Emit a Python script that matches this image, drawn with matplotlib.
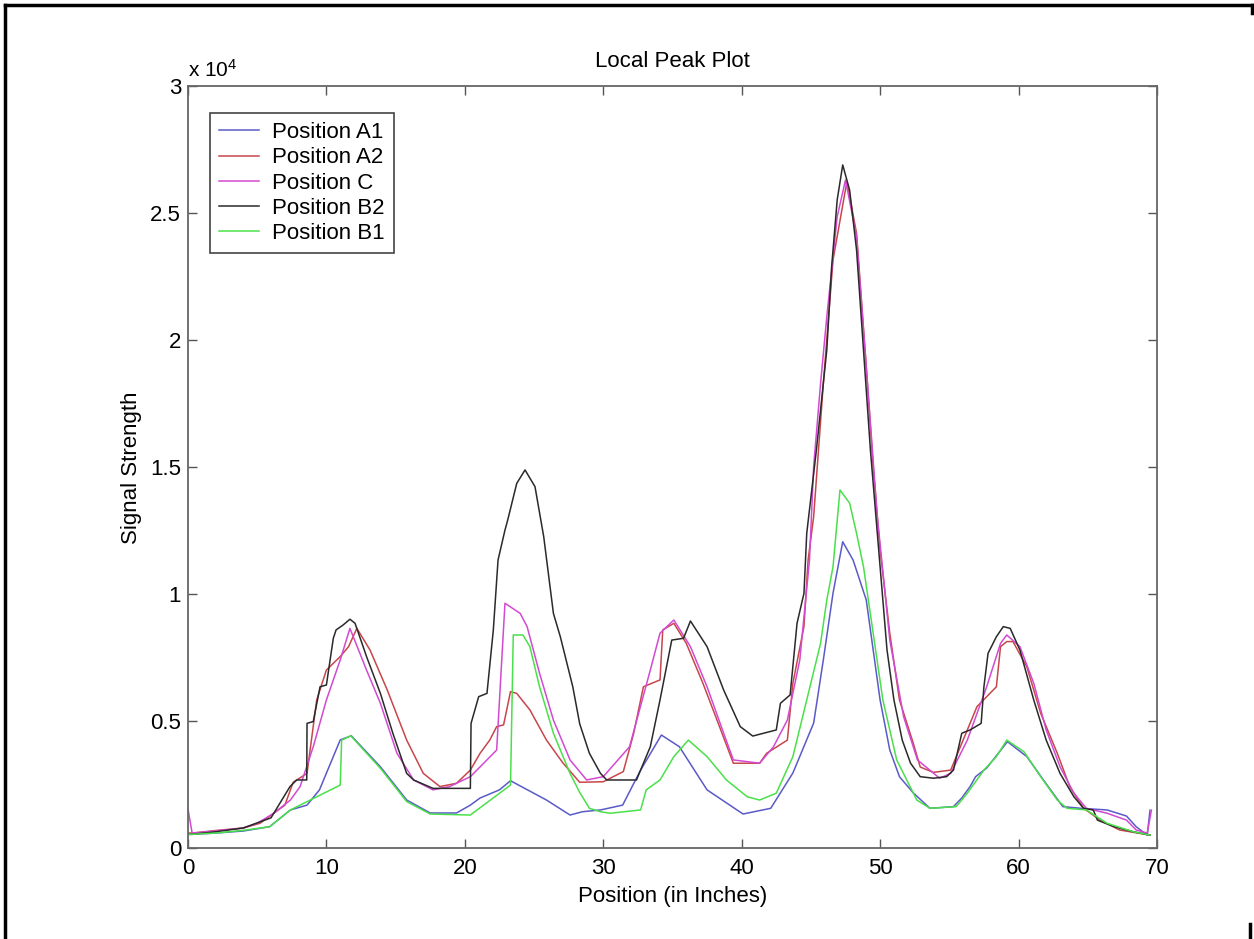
import matplotlib
matplotlib.use('Agg')
import matplotlib.pyplot as plt
from matplotlib.lines import Line2D
from matplotlib.ticker import FuncFormatter

plt.rcParams['font.family'] = ['Liberation Sans', 'DejaVu Sans']
plt.rcParams['mathtext.default'] = 'regular'

# Position A1 (blue)
a1_x = [0, 0.3, 2, 4, 5.9, 7.4, 8.6, 9.5, 11.0, 11.8, 13.9, 15.8, 17.5, 19.4, 20.4, 21.1,
        22.5, 23.3, 25.9, 27.6, 28.5, 29.8, 31.4, 32.7, 34.2, 35.5, 37.5, 40.1, 42.1, 43.7,
        45.2, 45.9, 46.6, 47.3, 48.05, 49.0, 50.0, 50.7, 51.4, 52.4, 53.6, 55.3, 55.9, 56.5,
        56.9, 57.7, 59.2, 60.6, 61.8, 63.2, 64.5, 66.4, 67.8, 68.5, 69.3, 69.5]
a1_y = [550, 550, 600, 680, 850, 1510, 1700, 2300, 4270, 4430, 3210, 1900, 1390, 1390, 1700, 1980,
        2300, 2660, 1900, 1310, 1440, 1510, 1700, 3080, 4460, 4000, 2300, 1350, 1575, 2965,
        4930, 7420, 10050, 12070, 11350, 9780, 5840, 3870, 2820, 2180, 1575, 1640, 1980, 2430,
        2820, 3160, 4200, 3610, 2690, 1640, 1575, 1510, 1270, 850, 520, 1500]

# Position A2 (red)
a2_x = [0, 0.3, 2, 4, 5.2, 7.0, 7.6, 8.6, 9.3, 10.0, 11.0, 11.6, 12.2, 13.15, 14.4, 15.8, 17.0,
        18.2, 19.4, 20.4, 21.1, 21.8, 22.3, 22.8, 23.3, 23.75, 24.7, 25.9, 27.1, 28.3, 30.0,
        31.45, 32.2, 32.9, 34.1, 34.3, 35.1, 36.0, 37.2, 38.4, 39.4, 41.3, 41.8, 43.3, 43.7,
        44.5, 44.8, 45.2, 45.9, 46.6, 47.6, 48.3, 49.0, 49.5, 50.0, 50.7, 51.4, 52.4, 52.9,
        53.85, 55.1, 55.8, 57.0, 58.4, 58.7, 59.15, 59.6, 60.6, 61.6, 62.8, 63.7, 64.7, 65.9,
        67.3, 69.5]
a2_y = [600, 600, 700, 800, 985, 1700, 2600, 2950, 5840, 7020, 7550, 7940, 8660, 7810, 6230, 4260, 2950,
        2430, 2560, 3080, 3740, 4260, 4790, 4860, 6170, 6100, 5450, 4260, 3350, 2600, 2620,
        3020, 4530, 6360, 6630, 8600, 8860, 8070, 6500, 4790, 3350, 3350, 3740, 4260, 6500,
        8730, 11350, 13060, 18310, 23170, 26250, 24220, 18970, 15030, 11750, 8470, 5840, 4130, 3200,
        2990, 3080, 4000, 5580, 6360, 7940, 8140, 8140, 7150, 5320, 3740, 2430, 1575, 1110,
        720, 520]

# Position C (magenta)
c_x = [0, 0.3, 2, 4, 5.0, 6.2, 7.4, 8.1, 9.05, 10.0, 11.0, 11.7, 12.9, 13.9, 15.1, 16.3, 17.7,
       18.9, 20.4, 21.6, 22.3, 22.9, 24.0, 24.5, 25.4, 26.4, 27.6, 28.8, 30.0, 31.9, 33.4, 34.1,
       35.1, 36.3, 37.5, 38.7, 39.4, 41.3, 42.3, 43.3, 44.2, 44.9, 45.2, 45.7, 46.15, 46.9,
       47.5, 48.3, 49.0, 49.8, 50.7, 51.7, 52.7, 54.3, 55.1, 56.3, 57.7, 58.7, 59.15, 60.1,
       61.1, 62.0, 63.0, 64.0, 64.9, 66.4, 67.8, 68.5, 69.3, 69.6]
c_y = [1550, 600, 680, 800, 985, 1380, 1900, 2430, 4000, 5840, 7420, 8660, 7020, 5710, 3740, 2690, 2300,
       2430, 2820, 3480, 3870, 9650, 9250, 8730, 6890, 5050, 3480, 2690, 2820, 4000, 7020, 8470,
       8990, 7940, 6360, 4530, 3480, 3350, 4000, 5050, 7420, 11350, 15030, 18310, 20930, 24870,
       26320, 24090, 18970, 13060, 8200, 5180, 3480, 2760, 2950, 4260, 6360, 8070, 8400, 7940,
       6500, 4660, 3210, 2170, 1575, 1380, 1110, 720, 600, 1500]

# Position B2 (black)
b2_x = [0, 0.3, 2, 4, 6, 7.37, 7.85, 8.58, 8.6, 9.05, 9.54, 10.0, 10.5, 10.7, 11.2, 11.7, 12.07,
        12.9, 13.9, 14.8, 15.8, 16.3, 17.7, 20.4, 20.45, 21.0, 21.6, 22.06, 22.4, 22.9, 23.1,
        23.75, 24.35, 25.07, 25.7, 26.4, 26.9, 27.8, 28.3, 29.0, 29.8, 30.25, 32.4, 33.4, 34.1,
        34.95, 35.8, 36.3, 37.5, 38.7, 39.9, 40.8, 42.5, 42.8, 43.5, 44.0, 44.5, 44.7, 45.4,
        46.15, 46.5, 46.9, 47.3, 47.8, 48.3, 48.8, 49.3, 49.8, 50.5, 51.0, 51.6, 52.2, 52.9,
        53.85, 54.8, 55.3, 55.9, 56.5, 57.3, 57.5, 57.8, 58.4, 58.9, 59.4, 60.1, 61.1, 62.0,
        63.0, 64.0, 64.7, 65.4, 65.7, 66.9, 68.3, 69.5]
b2_y = [550, 550, 650, 800, 1200, 2430, 2690, 2690, 4920, 4990, 6360, 6430, 8270, 8600, 8790, 9020, 8860,
        7550, 6100, 4530, 2950, 2690, 2360, 2360, 4920, 5970, 6100, 8600, 11350, 12530, 12930,
        14370, 14900, 14240, 12270, 9250, 8330, 6360, 4900, 3740, 2950, 2690, 2690, 4000, 5840,
        8200, 8270, 8950, 7940, 6230, 4790, 4420, 4660, 5710, 6040, 8860, 10040, 12400, 15690,
        19630, 22900, 25530, 26910, 25920, 23560, 19630, 15690, 12400, 7810, 5840, 4260, 3350, 2820,
        2760, 2820, 3080, 4530, 4660, 4920, 6360, 7680, 8330, 8730, 8660, 7810, 5840, 4260,
        2950, 2030, 1575, 1510, 1110, 850, 650, 520]

# Position B1 (green)
b1_x = [0, 0.3, 2, 4.2, 5.9, 7.4, 11.0, 11.1, 11.76, 13.9, 15.8, 17.5, 20.4, 23.3, 23.5, 24.2,
        24.7, 25.4, 26.4, 27.6, 28.3, 29.0, 29.8, 30.5, 32.7, 33.1, 34.1, 35.1, 36.15, 37.5,
        38.9, 40.4, 41.3, 42.5, 43.7, 44.7, 45.7, 46.15, 46.6, 47.1, 47.8, 48.3, 48.8, 49.5,
        50.2, 51.2, 52.65, 53.6, 55.5, 56.3, 57.5, 58.4, 59.15, 60.4, 61.6, 62.8, 63.5, 64.9,
        66.4, 68.3, 69.5]
b1_y = [550, 550, 600, 720, 850, 1510, 2490, 4260, 4430, 3150, 1840, 1350, 1310, 2490, 8400, 8400,
        7940, 6360, 4530, 2950, 2200, 1575, 1440, 1380, 1510, 2300, 2690, 3610, 4260, 3610,
        2690, 2030, 1900, 2170, 3610, 5840, 8070, 9780, 11090, 14110, 13590, 12400, 11090, 8470,
        5840, 3480, 1900, 1575, 1640, 2170, 3080, 3610, 4260, 3800, 2820, 1900, 1575, 1510,
        985, 650, 520]

series = [
    ('Position A1', a1_x, a1_y, '#5a5ac8'),
    ('Position A2', a2_x, a2_y, '#c8464b'),
    ('Position C', c_x, c_y, '#d24ad2'),
    ('Position B2', b2_x, b2_y, '#2a2a2a'),
    ('Position B1', b1_x, b1_y, '#4ae04a'),
]

fig = plt.figure(figsize=(12.54, 9.39), dpi=100)
ax = fig.add_axes([0.1499, 0.0966, 0.7727, 0.8113])

for name, xs, ys, col in series:
    ax.plot(xs, ys, color=col, lw=1.1, label=name)

ax.set_xlim(0, 70)
ax.set_ylim(0, 30000)
ax.set_xticks(range(0, 71, 10))
ax.set_yticks(range(0, 30001, 5000))
ax.yaxis.set_major_formatter(FuncFormatter(lambda v, p: f'{v / 1e4:g}'))
ax.tick_params(direction='in', length=6.5, width=1, colors='#555555', labelcolor='black',
               labelsize=16, top=True, right=True, pad=5)
ax.tick_params(axis='x', pad=7)
for s in ax.spines.values():
    s.set_color('#666666')
    s.set_linewidth(1.3)

ax.text(0, 1.008, r'x 10$^4$', transform=ax.transAxes, fontsize=15, ha='left', va='bottom')
ax.set_title('Local Peak Plot', fontsize=16, pad=14)
ax.set_xlabel('Position (in Inches)', fontsize=16, labelpad=5)
ax.set_ylabel('Signal Strength', fontsize=16, labelpad=6)

leg = ax.legend(loc='upper left', bbox_to_anchor=(0.0227, 0.9648), borderaxespad=0,
                fontsize=16, fancybox=False, framealpha=1, edgecolor='#444444',
                handlelength=1.8, handletextpad=0.6, labelspacing=0.19, borderpad=0.4)
leg.get_frame().set_linewidth(1.2)

# outer frame of the page
fr = dict(transform=fig.transFigure, color='black', lw=2.5)
fig.add_artist(Line2D([0.004, 0.004], [0, 0.9947], **fr))
fig.add_artist(Line2D([0.004, 0.9985], [0.9947, 0.9947], **fr))
fig.add_artist(Line2D([0.9985, 0.9985], [0.9947, 0.986], **fr))
fig.add_artist(Line2D([0.9968, 0.9968], [0, 0.016], **fr))

fig.savefig('out.png', dpi=100)
